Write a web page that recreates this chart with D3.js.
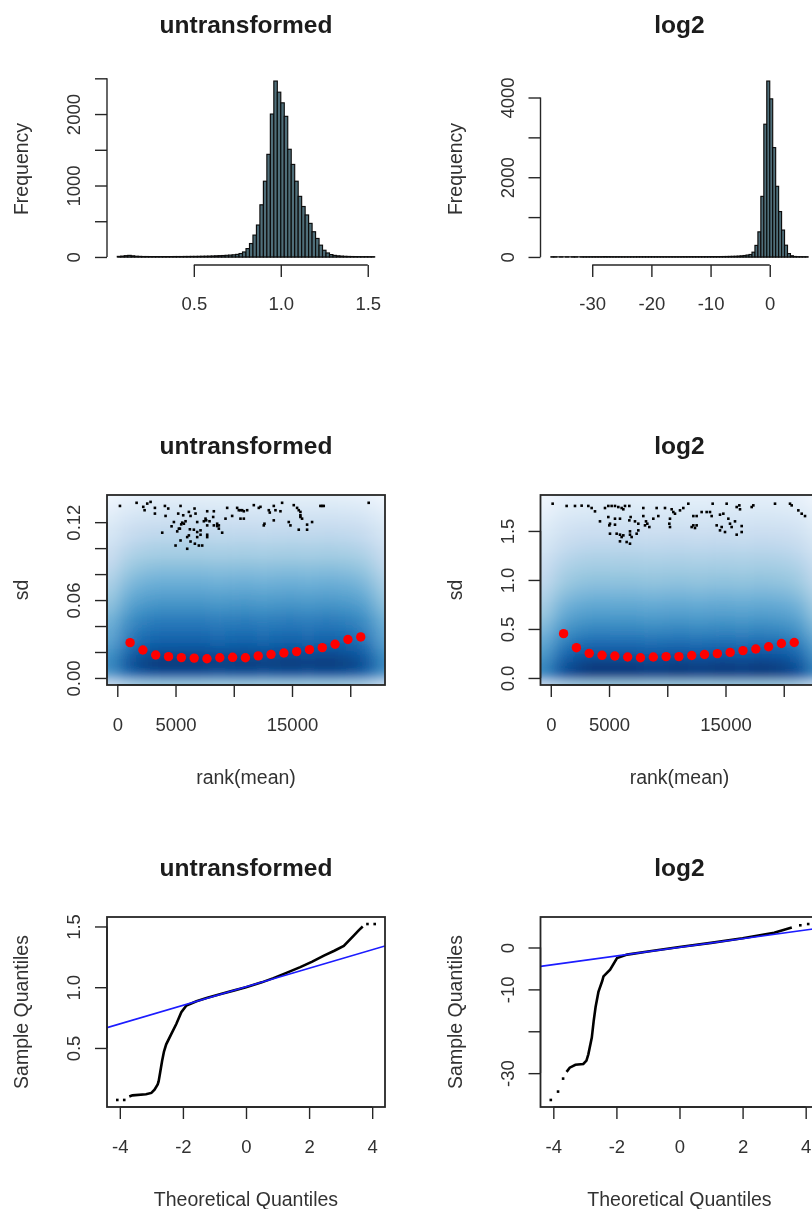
<!DOCTYPE html>
<html>
<head>
<meta charset="utf-8">
<script src="https://cdn.jsdelivr.net/npm/d3@7"></script>
<style>
body { margin: 0; background: #fff; }
svg text { font-family: "Liberation Sans", Arial, Helvetica, sans-serif; }
</style>
</head>
<body>
<svg id="fig" width="812" height="1209"></svg>
<script>
// ---- histogram of untransformed values (bin width 0.02 from 0.06)
var hist1Start = 0.06, hist1Step = 0.02
var hist1Counts = [8, 12, 18, 22, 16, 10, 8, 6, 6, 5, 5, 5, 4, 5, 5, 5, 6, 6, 6, 7, 7, 8, 8, 9, 10, 11, 12, 14, 16, 18, 20, 23, 26, 30, 36, 48,
  70, 117, 188, 306, 447, 730, 1060, 1436, 2000, 2462, 2306, 2157, 1968, 1507, 1295, 1060, 848, 706, 588, 470, 353, 259, 165, 94, 56, 33,
  22, 16, 12, 9, 7, 6, 5, 4, 3, 3, 2, 2]
var hist1XTicks = [0.5, 1.0, 1.5], hist1XLabels = ['0.5', '1.0', '1.5']
var hist1YTicks = [0, 500, 1000, 1500, 2000, 2500], hist1YLabels = ['0', '', '1000', '', '2000', '']

// ---- histogram of log2 values (bin width 0.5 from -37)
var hist2Start = -37, hist2Step = 0.5
var hist2Counts = [1, 1, 0, 1, 0, 1, 0, 1, 1, 0, 1, 2, 1, 2, 3, 4, 3, 5, 9, 6, 3, 2, 3, 2, 2, 2, 2, 2, 2, 3, 2, 3, 3, 3, 3, 3, 3, 4, 3,
  4, 4, 4, 4, 4, 5, 5, 5, 5, 6, 6, 6, 6, 7, 7, 8, 8, 9, 10, 11, 12, 14, 16, 18, 22, 28, 36, 48, 62,
  120, 290, 630, 1520, 3330, 4413, 3966, 2743, 1772, 1139, 675, 295, 85, 30, 12, 6, 3, 2, 1]
var hist2XTicks = [-30, -20, -10, 0], hist2XLabels = ['-30', '-20', '-10', '0']
var hist2YTicks = [0, 1000, 2000, 3000, 4000], hist2YLabels = ['0', '', '2000', '', '4000']

// ---- sd vs rank(mean)
var nGenes = 22100
var rankTicks = [0, 5000, 10000, 15000, 20000], rankLabels = ['0', '5000', '', '15000', '']
var sdMaxU = 0.1355, sdMaxL = 1.795
var sdTicksU = [0, 0.02, 0.04, 0.06, 0.08, 0.1, 0.12], sdLabelsU = ['0.00', '', '', '0.06', '', '', '0.12']
var sdTicksL = [0, 0.5, 1, 1.5], sdLabelsL = ['0.0', '0.5', '1.0', '1.5']

// running median of sd (red dots)
var medRank = [1100, 2200, 3300, 4400, 5500, 6600, 7700, 8800, 9900, 11000, 12100, 13200, 14300, 15400, 16500, 17600, 18700, 19800, 20900]
var medSdU = [0.0272, 0.0215, 0.0177, 0.0164, 0.0157, 0.0153, 0.0148, 0.0156, 0.0159, 0.0156, 0.0170, 0.0182, 0.0192, 0.0203, 0.0218, 0.0234, 0.0260, 0.0296, 0.0316]
var medSdL = [0.452, 0.309, 0.251, 0.231, 0.224, 0.214, 0.206, 0.214, 0.218, 0.218, 0.229, 0.239, 0.248, 0.261, 0.279, 0.296, 0.318, 0.352, 0.362]

// smoothed density (intensity 0..1) by sd bin, plus an edge factor by rank bin
var densRank = [-500, 800, 2100, 3400, 4700, 6000, 7300, 8600, 9900, 11200, 12500, 13800, 15100, 16400, 17700, 19000, 20300, 21600, 22900]
var densRankF = [0.72, 0.9, 0.97, 1, 1, 1, 1, 0.98, 0.99, 1, 0.98, 0.99, 1, 0.98, 1, 0.99, 0.97, 0.9, 0.72]
var densSdU = [-0.004, 0.003, 0.010, 0.017, 0.024, 0.031, 0.038, 0.045, 0.052, 0.059, 0.066, 0.073, 0.080, 0.087, 0.094, 0.101, 0.108, 0.115, 0.122, 0.129, 0.136, 0.143]
var densU = [0.45, 0.86, 0.97, 0.93, 0.87, 0.82, 0.78, 0.74, 0.69, 0.645, 0.6, 0.56, 0.52, 0.48, 0.44, 0.405, 0.37, 0.34, 0.3, 0.26, 0.22, 0.18]
var densSdL = [-0.06, 0.03, 0.12, 0.21, 0.30, 0.39, 0.48, 0.57, 0.66, 0.75, 0.84, 0.93, 1.02, 1.11, 1.20, 1.29, 1.38, 1.47, 1.56, 1.65, 1.74, 1.83]
var densL = [0.45, 0.93, 0.97, 0.9, 0.84, 0.78, 0.72, 0.67, 0.62, 0.58, 0.54, 0.5, 0.47, 0.44, 0.41, 0.38, 0.35, 0.32, 0.29, 0.26, 0.23, 0.2]

// outlying points drawn over the density
var outRankU = [229, 1658, 2230, 2344, 2573, 3230, 3230, 4088, 4374, 4145, 4660, 4860, 5231, 5431, 5660, 5374, 5489, 5860, 6146, 6289,
  6632, 6718, 6861, 6232, 6575, 6861, 7147, 7719, 7433, 7576, 7719, 8290, 8233, 8719, 8576, 9291, 9434, 9862, 10291, 10577,
  10863, 11149, 11721, 12149, 10577, 10863, 12578, 12635, 13092, 13007, 13436, 13579, 14008, 14150, 15151, 15579, 15722, 15436, 15722, 15865,
  14722, 14865, 15579, 16295, 16295, 16724, 17437, 17724, 21583, 3859, 5003, 5431, 6003, 6146, 6289, 6661, 7004, 7290, 6861, 7147,
  7719, 7719, 9005, 6003, 5146, 5288, 5574, 5717, 8290, 8576, 8719, 13436, 7633, 7919, 12292, 2859, 17580, 10434, 10720, 15722]
var outSdU = [0.1325, 0.1349, 0.1318, 0.1292, 0.1343, 0.1310, 0.1266, 0.1325, 0.1305, 0.1248, 0.1168, 0.1201, 0.1266, 0.1325, 0.1253, 0.1150, 0.1183, 0.1207, 0.1279, 0.1248,
  0.1305, 0.1266, 0.1201, 0.1145, 0.1142, 0.1124, 0.1137, 0.1284, 0.1207, 0.1227, 0.1175, 0.1284, 0.1240, 0.1175, 0.1188, 0.1227, 0.1310, 0.1248, 0.1310, 0.1292,
  0.1284, 0.1292, 0.1331, 0.1310, 0.1227, 0.1227, 0.1175, 0.1188, 0.1274, 0.1292, 0.1325, 0.1292, 0.1284, 0.1349, 0.1331, 0.1292, 0.1279, 0.1310, 0.1240, 0.1227,
  0.1201, 0.1175, 0.1142, 0.1181, 0.1142, 0.1201, 0.1325, 0.1325, 0.1349, 0.1119, 0.1020, 0.1059, 0.1085, 0.1098, 0.1051, 0.1034, 0.1020, 0.1020, 0.1085, 0.1103,
  0.1103, 0.1085, 0.1119, 0.0995, 0.1129, 0.1150, 0.1196, 0.1188, 0.1175, 0.1170, 0.1150, 0.1214, 0.1214, 0.1207, 0.1318, 0.1356, 0.1325, 0.1292, 0.1292, 0.1253]
var outRankL = [160, 1362, 2078, 2650, 3222, 3509, 3795, 4654, 4940, 5226, 5512, 5798, 6085, 6371, 6743, 6228, 7945, 9090, 9805, 10378,
  10521, 10664, 11093, 11379, 11808, 13898, 15100, 15959, 16187, 16245, 17247, 17389, 19250, 20538, 20681, 21253, 21540, 21826,
  4224, 4940, 5083, 5026, 5512, 5512, 5941, 6743, 6857, 7229, 7515, 7945, 8174, 8288, 8088, 8460, 8803, 9232, 10234, 10177, 10234,
  12238, 12524, 12953, 13383, 13669, 13812, 14528, 14814, 15243, 15386, 15529, 14671, 14528, 14242, 14957, 15815, 16388, 15959, 16388,
  12238, 12381, 12095, 12524, 5083, 5655, 5941, 6085, 6800, 6800, 7372, 7515, 5941, 6514, 6800, 6943, 6228]
var outSdL = [1.778, 1.755, 1.755, 1.758, 1.755, 1.734, 1.700, 1.734, 1.755, 1.755, 1.755, 1.744, 1.734, 1.755, 1.755, 1.721, 1.734, 1.734, 1.734, 1.721,
  1.693, 1.676, 1.710, 1.734, 1.778, 1.778, 1.778, 1.744, 1.761, 1.721, 1.744, 1.761, 1.778, 1.778, 1.761, 1.710, 1.676, 1.652,
  1.598, 1.642, 1.574, 1.557, 1.625, 1.564, 1.625, 1.608, 1.642, 1.598, 1.574, 1.652, 1.598, 1.574, 1.557, 1.540, 1.625, 1.652, 1.625, 1.574, 1.540,
  1.652, 1.652, 1.693, 1.693, 1.693, 1.652, 1.666, 1.676, 1.625, 1.574, 1.540, 1.540, 1.506, 1.557, 1.489, 1.598, 1.550, 1.462, 1.489,
  1.557, 1.530, 1.540, 1.557, 1.472, 1.472, 1.462, 1.438, 1.496, 1.462, 1.472, 1.506, 1.394, 1.387, 1.370, 1.438, 1.455]

// ---- normal QQ plots: dense part as a curve, sparse tails as points
var qqTheoMax = 4.08
var qqCurveTU = [-3.7, -3.6, -3.17, -3.0, -2.9, -2.8, -2.77, -2.72, -2.66, -2.6, -2.53, -2.37, -2.21, -2.05, -1.89, -1.57, -1.25, -0.8, -0.4, 0, 0.5, 0.87, 1.3, 1.72, 2.1, 2.47, 2.8, 3.1, 3.4, 3.58, 3.7]
var qqCurveSU = [0.10, 0.11, 0.119, 0.13, 0.156, 0.20, 0.225, 0.30, 0.392, 0.47, 0.53, 0.614, 0.697, 0.794, 0.85, 0.885, 0.912, 0.945, 0.972, 1.0, 1.04, 1.075, 1.12, 1.165, 1.21, 1.26, 1.30, 1.34, 1.42, 1.47, 1.50]
var qqTailTU = [-4.08, -3.86, 3.85, 4.08], qqTailSU = [0.072, 0.072, 1.52, 1.52]
var qqLineU = { intercept: 1.003, slope: 0.0764 }
var qqYTicksU = [0.5, 1.0, 1.5], qqYLabelsU = ['0.5', '1.0', '1.5']

var qqCurveTL = [-3.58, -3.48, -3.3, -3.05, -2.95, -2.89, -2.78, -2.72, -2.66, -2.57, -2.45, -2.41, -2.2, -1.98, -1.66, -1.0, 0, 1, 2, 3, 3.56]
var qqCurveSL = [-29.7, -28.7, -28.0, -27.8, -27.0, -25.5, -21.5, -17.5, -14.2, -10.6, -8.0, -6.9, -5.3, -2.5, -1.7, -0.95, 0.1, 1.1, 2.2, 3.5, 4.76]
var qqTailTL = [-4.08, -3.85, -3.69, 3.83, 4.08], qqTailSL = [-36.4, -34.4, -31.3, 5.3, 5.6]
var qqLineL = { intercept: 0.05, slope: 1.03 }
var qqYTicksL = [-30, -20, -10, 0], qqYLabelsL = ['-30', '', '-10', '0']
var qqXTicks = [-4, -2, 0, 2, 4], qqXLabels = ['-4', '-2', '0', '2', '4']

// R colour ramp used by smoothScatter: white + blues9
var blues = ['#FFFFFF', '#F7FBFF', '#DEEBF7', '#C6DBEF', '#9ECAE1', '#6BAED6', '#4292C6', '#2171B5', '#08519C', '#08306B']

// ------------------------------------------------------------------
var svg = d3.select('#fig')
var defs = svg.append('defs')
var colX = [107, 540.5], rowY = [74, 495, 917]
var PW = 278, PH = 190
var ink = '#262626'
var tickFont = 18.5, labFont = 19.5, titleFont = 24.5

defs.append('filter').attr('id', 'dens')
  .attr('x', '-10%').attr('y', '-10%').attr('width', '120%').attr('height', '120%')
  .append('feGaussianBlur').attr('stdDeviation', '8 5')

// the reference is a soft, upscaled raster
defs.append('filter').attr('id', 'soft').attr('filterUnits', 'userSpaceOnUse')
  .attr('x', 0).attr('y', 0).attr('width', 812).attr('height', 1209)
  .append('feGaussianBlur').attr('stdDeviation', 0.7)

var root = svg.append('g').attr('filter', 'url(#soft)')
root.append('rect').attr('width', 812).attr('height', 1209).attr('fill', '#fff')

var ramp = d3.scaleLinear().domain(blues.map((d, i) => i / 9)).range(blues).clamp(true)

// R pads every axis range by 4%
function padded(lo, hi) {
  var p = 0.04 * (hi - lo)
  return [lo - p, hi + p]
}

function panel(col, row, title, xlab, ylab) {
  var g = root.append('g').attr('transform', 'translate(' + colX[col] + ',' + rowY[row] + ')')
  g.append('text').attr('x', PW / 2).attr('y', -41).attr('text-anchor', 'middle')
    .attr('font-size', titleFont).attr('font-weight', 'bold').attr('fill', '#1a1a1a').text(title)
  if (xlab) {
    g.append('text').attr('x', PW / 2).attr('y', PH + 98.5).attr('text-anchor', 'middle')
      .attr('font-size', labFont).attr('fill', '#333').text(xlab)
  }
  g.append('text').attr('transform', 'translate(-79,' + PH / 2 + ') rotate(-90)').attr('text-anchor', 'middle')
    .attr('font-size', labFont).attr('fill', '#333').text(ylab)
  return g
}

function xAxis(g, x, ticks, labels, y0) {
  var a = g.append('g').attr('transform', 'translate(0,' + y0 + ')')
    .call(d3.axisBottom(x).tickValues(ticks).tickSize(12).tickFormat((d, i) => labels[i]))
  a.select('.domain').remove()
  a.attr('font-family', null).attr('font-size', null)
  a.selectAll('.tick line').attr('stroke', ink).attr('stroke-width', 1.4)
  a.selectAll('.tick text').attr('y', PH + 46 - y0).attr('dy', null)
    .attr('font-size', tickFont).attr('fill', '#303030')
  a.append('line').attr('x1', x(ticks[0])).attr('x2', x(ticks[ticks.length - 1]))
    .attr('stroke', ink).attr('stroke-width', 1.4)
}

function yAxis(g, y, ticks, labels) {
  var a = g.append('g').call(d3.axisLeft(y).tickValues(ticks).tickSize(12).tickFormat((d, i) => labels[i]))
  a.select('.domain').remove()
  a.attr('font-family', null).attr('font-size', null)
  a.selectAll('.tick line').attr('stroke', ink).attr('stroke-width', 1.4)
  a.selectAll('.tick text').attr('x', 0).attr('y', -27).attr('dy', null)
    .attr('transform', 'rotate(-90)').attr('text-anchor', 'middle')
    .attr('font-size', tickFont).attr('fill', '#303030')
  a.append('line').attr('y1', y(ticks[0])).attr('y2', y(ticks[ticks.length - 1]))
    .attr('stroke', ink).attr('stroke-width', 1.4)
}

function box(g) {
  g.append('rect').attr('width', PW).attr('height', PH)
    .attr('fill', 'none').attr('stroke', ink).attr('stroke-width', 1.8)
}

// ---- row 1: histograms
function histogram(col, title, start, step, counts, xt, xl, yt, yl) {
  var g = panel(col, 0, title, null, 'Frequency')
  var x = d3.scaleLinear().domain(padded(start, start + counts.length * step)).range([0, PW])
  var y = d3.scaleLinear().domain(padded(0, d3.max(counts))).range([PH, 0])
  // empty bins still draw their bottom border in R
  g.append('line').attr('x1', x(start)).attr('x2', x(start + counts.length * step))
    .attr('y1', y(0)).attr('y2', y(0)).attr('stroke', '#101010').attr('stroke-width', 1.2)
  g.append('g').selectAll('rect').data(counts).join('rect')
    .attr('x', (d, i) => x(start + i * step))
    .attr('width', x(start + step) - x(start))
    .attr('y', d => y(d))
    .attr('height', d => y(0) - y(d))
    .attr('fill', '#4f6e79').attr('stroke', '#0c0c0c').attr('stroke-width', 1.15)
  xAxis(g, x, xt, xl, PH + 1)
  yAxis(g, y, yt, yl)
}
histogram(0, 'untransformed', hist1Start, hist1Step, hist1Counts, hist1XTicks, hist1XLabels, hist1YTicks, hist1YLabels)
histogram(1, 'log2', hist2Start, hist2Step, hist2Counts, hist2XTicks, hist2XLabels, hist2YTicks, hist2YLabels)

// ---- row 2: smoothed scatter of sd against rank of the mean
function cellEdges(scale, centers) {
  var px = centers.map(scale)
  var e = [px[0] - (px[1] - px[0]) / 2]
  for (var i = 1; i < px.length; i++) e.push((px[i - 1] + px[i]) / 2)
  e.push(px[px.length - 1] + (px[px.length - 1] - px[px.length - 2]) / 2)
  return e
}

function sdPanel(col, title, sdMax, densSd, dens, outRank, outSd, medSd, yt, yl) {
  var g = panel(col, 1, title, 'rank(mean)', 'sd')
  var x = d3.scaleLinear().domain(padded(1, nGenes)).range([0, PW])
  var y = d3.scaleLinear().domain(padded(0, sdMax)).range([PH, 0])

  var clipId = 'clip-sd-' + col
  defs.append('clipPath').attr('id', clipId).append('rect').attr('width', PW).attr('height', PH)
  var layer = g.append('g').attr('clip-path', 'url(#' + clipId + ')')
  var xe = cellEdges(x, densRank), ye = cellEdges(y, densSd)
  xe[0] -= 30; xe[xe.length - 1] += 30
  ye[0] += 30; ye[ye.length - 1] -= 30
  var cells = []
  dens.forEach((v, j) => densRankF.forEach((f, i) => cells.push({ i: i, j: j, v: v * f })))
  layer.append('g').attr('filter', 'url(#dens)')
    .selectAll('rect').data(cells).join('rect')
    .attr('x', d => xe[d.i]).attr('width', d => xe[d.i + 1] - xe[d.i] + 0.5)
    .attr('y', d => ye[d.j + 1]).attr('height', d => ye[d.j] - ye[d.j + 1] + 0.5)
    .attr('fill', d => ramp(d.v))

  layer.append('g').selectAll('rect').data(outRank).join('rect')
    .attr('x', (d, i) => x(d) - 1.3).attr('y', (d, i) => y(outSd[i]) - 1.3)
    .attr('width', 2.6).attr('height', 2.6).attr('fill', '#000')

  layer.append('g').selectAll('circle').data(medRank).join('circle')
    .attr('cx', d => x(d)).attr('cy', (d, i) => y(medSd[i])).attr('r', 4.7).attr('fill', '#ff0000')

  box(g)
  xAxis(g, x, rankTicks, rankLabels, PH)
  yAxis(g, y, yt, yl)
}
sdPanel(0, 'untransformed', sdMaxU, densSdU, densU, outRankU, outSdU, medSdU, sdTicksU, sdLabelsU)
sdPanel(1, 'log2', sdMaxL, densSdL, densL, outRankL, outSdL, medSdL, sdTicksL, sdLabelsL)

// ---- row 3: normal QQ plots
function qqPanel(col, title, curveT, curveS, tailT, tailS, line, yt, yl) {
  var g = panel(col, 2, title, 'Theoretical Quantiles', 'Sample Quantiles')
  var allS = curveS.concat(tailS)
  var x = d3.scaleLinear().domain(padded(-qqTheoMax, qqTheoMax)).range([0, PW])
  var y = d3.scaleLinear().domain(padded(d3.min(allS), d3.max(allS))).range([PH, 0])

  var clipId = 'clip-qq-' + col
  defs.append('clipPath').attr('id', clipId).append('rect').attr('width', PW).attr('height', PH)
  var layer = g.append('g').attr('clip-path', 'url(#' + clipId + ')')

  var pts = curveT.map((t, i) => [t, curveS[i]])
  layer.append('path').datum(pts)
    .attr('d', d3.line().x(d => x(d[0])).y(d => y(d[1])))
    .attr('fill', 'none').attr('stroke', '#000').attr('stroke-width', 2.6)
  layer.append('g').selectAll('rect').data(tailT).join('rect')
    .attr('x', d => x(d) - 1.3).attr('y', (d, i) => y(tailS[i]) - 1.3)
    .attr('width', 2.6).attr('height', 2.6).attr('fill', '#000')

  var xd = x.domain()
  layer.append('line')
    .attr('x1', x(xd[0])).attr('y1', y(line.intercept + line.slope * xd[0]))
    .attr('x2', x(xd[1])).attr('y2', y(line.intercept + line.slope * xd[1]))
    .attr('stroke', '#1a1aff').attr('stroke-width', 1.7)

  box(g)
  xAxis(g, x, qqXTicks, qqXLabels, PH)
  yAxis(g, y, yt, yl)
}
qqPanel(0, 'untransformed', qqCurveTU, qqCurveSU, qqTailTU, qqTailSU, qqLineU, qqYTicksU, qqYLabelsU)
qqPanel(1, 'log2', qqCurveTL, qqCurveSL, qqTailTL, qqTailSL, qqLineL, qqYTicksL, qqYLabelsL)
</script>
</body>
</html>
